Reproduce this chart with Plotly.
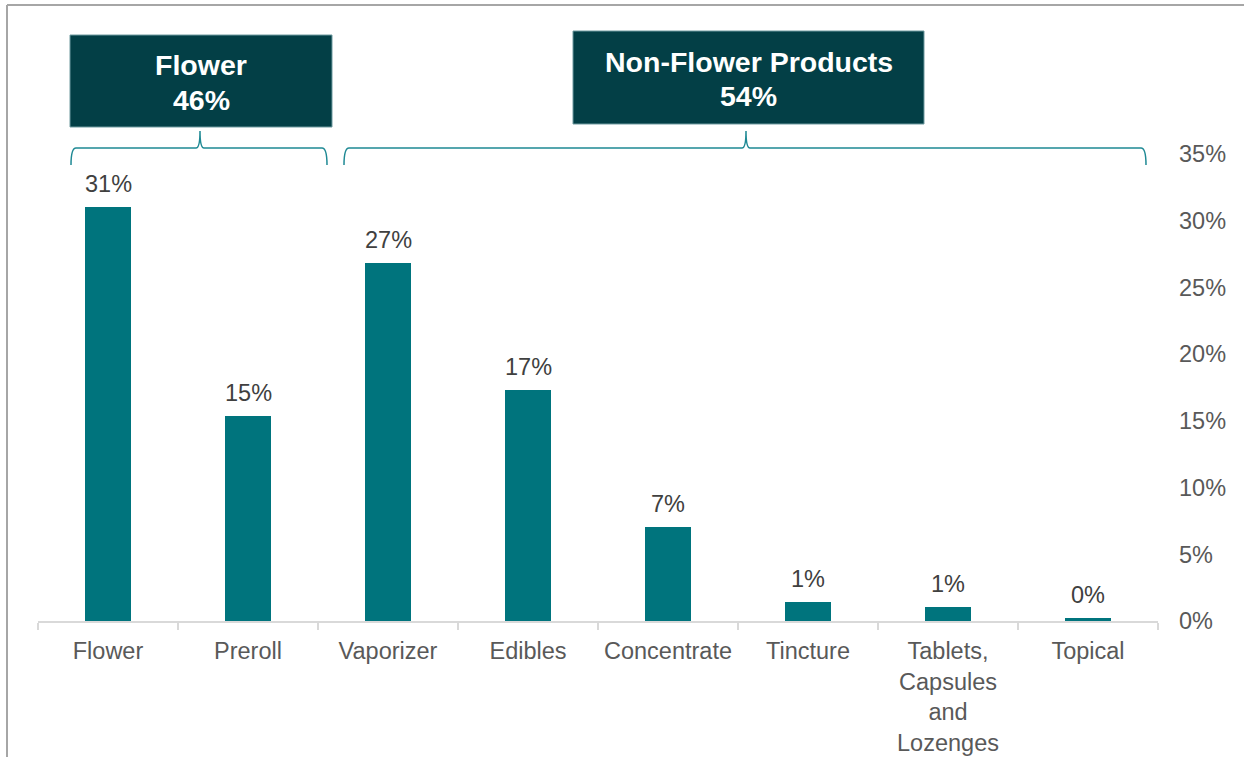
import plotly.graph_objects as go

categories = ["Flower", "Preroll", "Vaporizer", "Edibles", "Concentrate", "Tincture",
              "Tablets,<br>Capsules<br>and<br>Lozenges", "Topical"]
shares = [31.0, 15.4, 26.8, 17.3, 7.05, 1.4, 1.05, 0.25]
bar_labels = ["31%", "15%", "27%", "17%", "7%", "1%", "1%", "0%"]
y_ticks = [0, 5, 10, 15, 20, 25, 30, 35]
groups = [("Flower", "46%"), ("Non-Flower Products", "54%")]

W, H = 1244, 757
L, R, T, B = 38, 1158, 154, 621

def px(x):
    return (x - L) / (R - L)

def py(y):
    return (B - y) / (B - T)

BAR = "#00747D"
BOX = "#033F46"
BRACE = "#1E8994"
FONT = "Liberation Sans, Arial, sans-serif"
FS = 23.5

fig = go.Figure()
fig.add_trace(go.Bar(x=categories, y=shares, width=0.33, marker=dict(color=BAR, line=dict(width=0)),
                     hoverinfo="skip"))

annotations = []
for c, v, t in zip(categories, shares, bar_labels):
    annotations.append(dict(x=c, y=v, xref="x", yref="y", text=t, showarrow=False,
                            xanchor="center", yanchor="middle", yshift=23,
                            font=dict(family=FONT, size=FS, color="#404040")))

shapes = []
# frame lines
shapes.append(dict(type="line", xref="paper", yref="paper", x0=px(7), x1=px(1244), y0=py(5), y1=py(5),
                   line=dict(color="#A6A6A6", width=2)))
shapes.append(dict(type="line", xref="paper", yref="paper", x0=px(7), x1=px(7), y0=py(5), y1=py(757),
                   line=dict(color="#A6A6A6", width=2)))

# boxes
boxes = [(70, 332, 35, 127, 65, 100), (573, 924, 31, 124, 62, 96)]
for (x0, x1, y0, y1, ty1, ty2), (name, pct) in zip(boxes, groups):
    shapes.append(dict(type="rect", xref="paper", yref="paper", x0=px(x0), x1=px(x1), y0=py(y1), y1=py(y0),
                       fillcolor=BOX, line=dict(color="#6E9A9F", width=1), layer="above"))
    cx = (x0 + x1) / 2
    annotations.append(dict(x=px(cx), y=py(ty1), xref="paper", yref="paper", text="<b>%s</b>" % name,
                            showarrow=False, xanchor="center", yanchor="middle",
                            font=dict(family=FONT, size=28.5, color="white")))
    annotations.append(dict(x=px(cx), y=py(ty2), xref="paper", yref="paper", text="<b>%s</b>" % pct,
                            showarrow=False, xanchor="center", yanchor="middle",
                            font=dict(family=FONT, size=28.5, color="white")))

# braces
def brace(x0, x1, xm, ytop=148, yend=165, ytip=131):
    r = 5
    pts = [
        f"M {px(x0)},{py(yend)}",
        f"Q {px(x0)},{py(ytop)} {px(x0 + r)},{py(ytop)}",
        f"L {px(xm - 4)},{py(ytop)}",
        f"Q {px(xm)},{py(ytop)} {px(xm)},{py(ytip)}",
        f"Q {px(xm)},{py(ytop)} {px(xm + 4)},{py(ytop)}",
        f"L {px(x1 - r)},{py(ytop)}",
        f"Q {px(x1)},{py(ytop)} {px(x1)},{py(yend)}",
    ]
    return dict(type="path", xref="paper", yref="paper", path=" ".join(pts),
                line=dict(color=BRACE, width=1.5))

shapes.append(brace(71, 327, 200))
shapes.append(brace(344, 1146, 746))

fig.update_layout(
    width=W, height=H, autosize=False,
    margin=dict(l=L, r=W - R, t=T, b=H - B, pad=0, autoexpand=False),
    paper_bgcolor="white", plot_bgcolor="white",
    showlegend=False, bargap=0,
    font=dict(family=FONT),
    shapes=shapes, annotations=annotations,
    xaxis=dict(type="category", showgrid=False, showline=True, linecolor="#D9D9D9", linewidth=1.5,
               ticks="outside", tickson="boundaries", ticklen=7, tickcolor="#D9D9D9", tickwidth=1.5,
               ticklabelstandoff=8, automargin=False,
               tickfont=dict(family=FONT, size=FS, color="#595959"), fixedrange=True),
    yaxis=dict(side="right", range=[0, 35], tickvals=y_ticks, ticktext=[f"{v}%" for v in y_ticks],
               showgrid=False, showline=False, zeroline=False, ticks="", automargin=False,
               ticklabelstandoff=20,
               tickfont=dict(family=FONT, size=FS, color="#595959"), fixedrange=True),
)

fig.write_html("out.html", config={"displayModeBar": False})
